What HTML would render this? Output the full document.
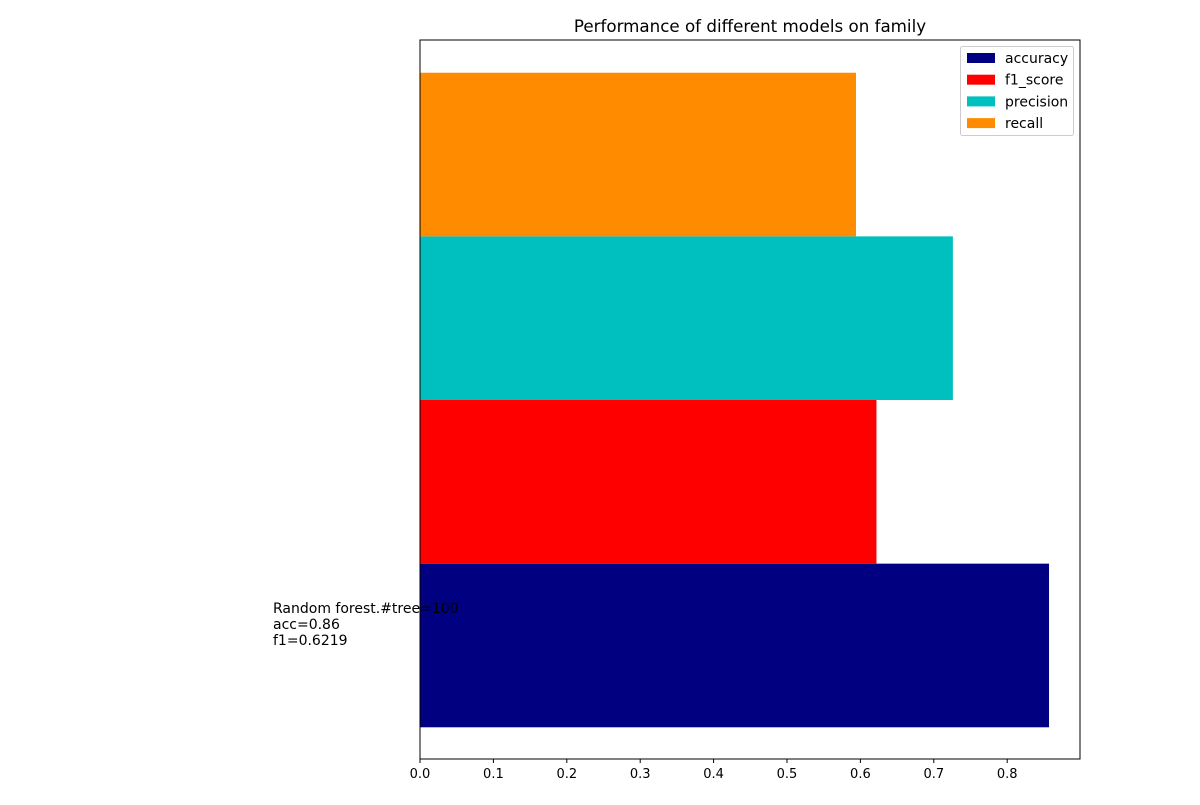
<!DOCTYPE html>
<html><head><meta charset="utf-8"><style>
body{margin:0;background:#fff;}
svg text{font-family:"DejaVu Sans","Liberation Sans",sans-serif;}
</style></head><body>
<svg id="chart" width="1200" height="800" xmlns="http://www.w3.org/2000/svg"></svg>
<script>
const categories = ["accuracy","f1_score","precision","recall"];
const values = [0.857, 0.6219, 0.726, 0.594];
const colors = ["#000080","#ff0000","#00bfbf","#ff8c00"];
const xTicks = [0,0.1,0.2,0.3,0.4,0.5,0.6,0.7,0.8];
const xTickLabels = ["0.0","0.1","0.2","0.3","0.4","0.5","0.6","0.7","0.8"];
const annotation = ["Random forest.#tree=100","acc=0.86","f1=0.6219"];

const NS="http://www.w3.org/2000/svg";
const svg=document.getElementById('chart');
const L=420,R=1080,T=40,B=759;
const xMax=0.8992;
const x=v=>L+v/xMax*(R-L);
const yMin=-0.4-0.155, yMax=2.8+0.16;
const y=v=>B-(v-yMin)/(yMax-yMin)*(B-T);
function el(t,a,p){const e=document.createElementNS(NS,t);for(const k in a)e.setAttribute(k,a[k]);(p||svg).appendChild(e);return e;}

const t=el('text',{x:750,y:32,'text-anchor':'middle','font-size':16.7,fill:'#000'});


t.textContent="Performance of different models on family";

categories.forEach((c,i)=>{
  const c0=i*0.8;
  const r=el('rect',{x:x(0),y:y(c0+0.4),width:x(values[i])-x(0),height:y(c0-0.4)-y(c0+0.4),fill:colors[i]});
  
  
});

const ax=el('rect',{x:L,y:T,width:R-L,height:B-T,fill:'none',stroke:'#000','stroke-width':1});



xTicks.forEach((v,i)=>{
  const tk=el('line',{x1:x(v),x2:x(v),y1:B,y2:B+4,stroke:'#000'});
  
  
  const lb=el('text',{x:x(v),y:B+19,'text-anchor':'middle','font-size':13,fill:'#000'});
  
  
  lb.textContent=xTickLabels[i];
});

annotation.forEach((s,i)=>{
  const a=el('text',{x:273,y:613+i*16,'font-size':14,fill:'#000'});
  
  
  a.textContent=s;
});

const lg=el('g',{});


el('rect',{x:960.5,y:46.5,width:113,height:89,fill:'#fff',stroke:'#ccc',rx:2},lg);
categories.forEach((c,i)=>{
  const yy=58+i*21.7;
  const p=el('rect',{x:967,y:yy-5,width:28,height:10,fill:colors[i]},lg);
  
  
  const tx=el('text',{x:1005,y:yy+5,'font-size':14,fill:'#000'},lg);
  
  
  tx.textContent=c;
});
</script>
</body></html>
